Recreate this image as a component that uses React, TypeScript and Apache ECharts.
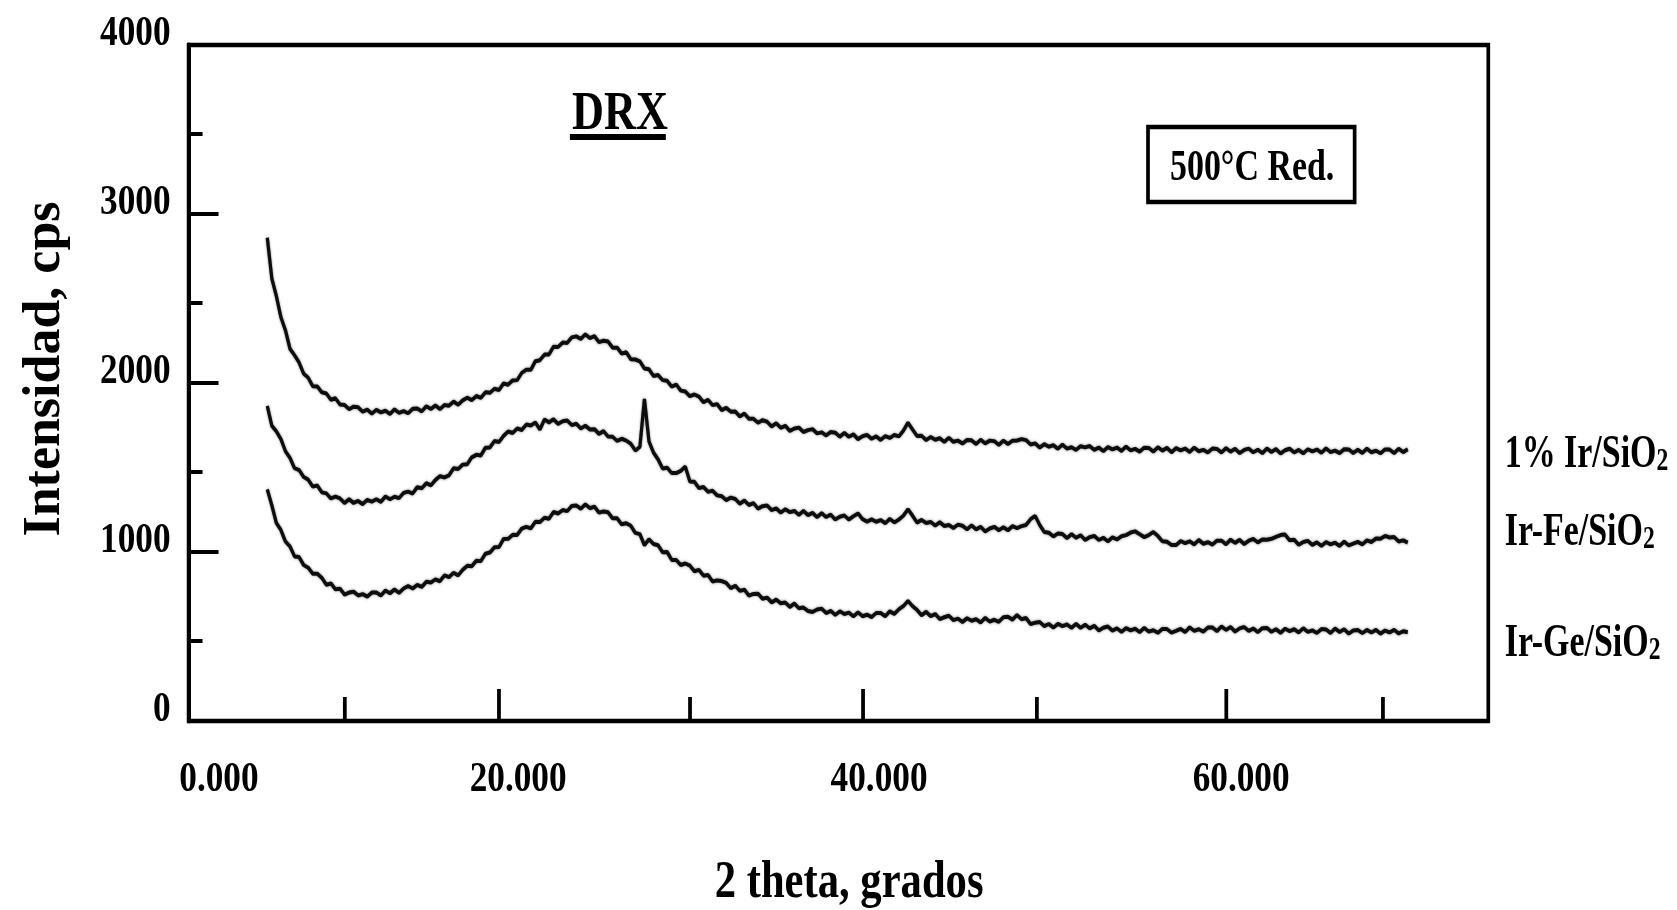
import React, { useEffect, useRef } from "react";
import * as echarts from "echarts";

// XRD scans (2θ from 7.25° in 0.25° steps), intensity in cps
const SCAN_START = 7.25;
const SCAN_STEP = 0.25;

const irSiO2 = [
  2859, 2618, 2514, 2389, 2311, 2202, 2164, 2121, 2056, 2031, 1981, 1980, 1945, 1938, 1901, 1910, 1873, 1870, 1845, 1860,
  1856, 1830, 1842, 1819, 1841, 1826, 1836, 1817, 1844, 1823, 1834, 1821, 1847, 1849, 1832, 1862, 1846, 1867, 1845, 1870,
  1866, 1890, 1871, 1897, 1913, 1899, 1923, 1912, 1945, 1942, 1966, 1959, 1998, 1990, 2015, 2017, 2060, 2079, 2078, 2129,
  2135, 2168, 2169, 2215, 2213, 2239, 2237, 2270, 2276, 2260, 2288, 2266, 2277, 2242, 2250, 2245, 2209, 2209, 2174, 2182,
  2140, 2139, 2128, 2086, 2081, 2041, 2047, 2017, 2013, 1979, 1991, 1955, 1950, 1922, 1932, 1919, 1886, 1900, 1869, 1875,
  1839, 1853, 1830, 1831, 1802, 1819, 1788, 1788, 1765, 1780, 1771, 1743, 1762, 1735, 1747, 1716, 1731, 1736, 1710, 1721,
  1727, 1702, 1708, 1690, 1710, 1706, 1682, 1705, 1682, 1696, 1668, 1685, 1693, 1670, 1684, 1663, 1686, 1675, 1692, 1684,
  1718, 1765, 1725, 1686, 1688, 1662, 1681, 1664, 1673, 1652, 1676, 1652, 1659, 1642, 1663, 1661, 1639, 1664, 1643, 1659,
  1656, 1634, 1659, 1639, 1658, 1660, 1668, 1662, 1636, 1643, 1618, 1638, 1623, 1632, 1611, 1635, 1612, 1620, 1604, 1626,
  1619, 1627, 1604, 1618, 1597, 1621, 1607, 1618, 1598, 1624, 1601, 1610, 1594, 1617, 1616, 1594, 1620, 1600, 1616, 1590,
  1614, 1601, 1612, 1592, 1618, 1596, 1604, 1589, 1612, 1610, 1589, 1615, 1594, 1611, 1585, 1604, 1612, 1590, 1605, 1585,
  1612, 1592, 1609, 1583, 1602, 1611, 1589, 1604, 1584, 1608, 1595, 1606, 1587, 1613, 1591, 1600, 1585, 1608, 1607, 1586,
  1605, 1586, 1612, 1590, 1599, 1584, 1607, 1606, 1585, 1611, 1591, 1608,
];

const irFeSiO2 = [
  1864, 1747, 1714, 1668, 1596, 1556, 1496, 1485, 1444, 1428, 1387, 1393, 1353, 1347, 1317, 1328, 1317, 1290, 1312, 1290,
  1302, 1283, 1309, 1298, 1312, 1297, 1328, 1312, 1327, 1319, 1350, 1357, 1346, 1384, 1377, 1407, 1394, 1426, 1449, 1441,
  1454, 1496, 1491, 1517, 1519, 1560, 1575, 1571, 1617, 1619, 1657, 1651, 1687, 1713, 1704, 1731, 1722, 1754, 1748, 1766,
  1725, 1784, 1767, 1785, 1758, 1774, 1778, 1751, 1759, 1731, 1747, 1725, 1727, 1699, 1715, 1683, 1682, 1657, 1670, 1659,
  1640, 1600, 1622, 1905, 1655, 1588, 1548, 1494, 1499, 1467, 1467, 1480, 1505, 1417, 1415, 1378, 1385, 1356, 1363, 1335,
  1330, 1307, 1322, 1314, 1286, 1305, 1278, 1289, 1257, 1271, 1275, 1248, 1258, 1233, 1253, 1236, 1243, 1220, 1243, 1218,
  1231, 1207, 1230, 1207, 1221, 1192, 1209, 1216, 1192, 1211, 1228, 1194, 1180, 1193, 1179, 1189, 1170, 1196, 1175, 1192,
  1215, 1253, 1215, 1174, 1190, 1172, 1178, 1156, 1176, 1154, 1160, 1142, 1162, 1155, 1134, 1157, 1134, 1149, 1121, 1139,
  1149, 1129, 1146, 1128, 1153, 1141, 1153, 1160, 1195, 1213, 1160, 1118, 1114, 1092, 1110, 1106, 1082, 1106, 1084, 1099,
  1071, 1088, 1095, 1071, 1084, 1063, 1086, 1074, 1093, 1100, 1115, 1122, 1105, 1088, 1100, 1118, 1095, 1063, 1060, 1042,
  1041, 1065, 1052, 1063, 1045, 1071, 1049, 1058, 1044, 1067, 1067, 1046, 1073, 1054, 1072, 1047, 1067, 1077, 1057, 1074,
  1072, 1078, 1090, 1100, 1103, 1069, 1073, 1043, 1059, 1066, 1042, 1057, 1036, 1059, 1045, 1055, 1036, 1061, 1039, 1050,
  1060, 1045, 1069, 1059, 1080, 1078, 1095, 1086, 1089, 1062, 1069, 1055,
];

const irGeSiO2 = [
  1371, 1276, 1171, 1130, 1062, 1033, 974, 970, 923, 907, 872, 872, 847, 806, 814, 779, 783, 748, 760, 765,
  743, 751, 736, 760, 761, 743, 772, 756, 778, 758, 784, 799, 784, 806, 793, 824, 819, 838, 827, 862,
  851, 877, 862, 894, 918, 916, 948, 946, 990, 997, 1028, 1029, 1077, 1078, 1102, 1101, 1138, 1149, 1140, 1179,
  1177, 1203, 1197, 1237, 1228, 1248, 1242, 1272, 1275, 1256, 1282, 1259, 1269, 1233, 1240, 1235, 1199, 1199, 1164, 1170,
  1155, 1113, 1106, 1040, 1075, 1047, 1040, 999, 1000, 953, 952, 923, 932, 919, 886, 894, 860, 864, 825, 832,
  828, 817, 786, 800, 770, 777, 742, 752, 753, 723, 730, 702, 718, 697, 701, 675, 695, 667, 671, 651,
  645, 660, 665, 639, 651, 628, 649, 633, 641, 619, 643, 620, 629, 615, 639, 639, 620, 649, 634, 661,
  680, 711, 680, 657, 626, 646, 621, 633, 603, 614, 623, 597, 606, 586, 608, 593, 602, 583, 610, 588,
  599, 587, 614, 617, 600, 627, 602, 609, 573, 582, 586, 561, 574, 552, 575, 561, 571, 551, 575, 551,
  570, 548, 563, 535, 552, 559, 535, 548, 527, 550, 536, 546, 526, 551, 529, 537, 522, 545, 544, 523,
  533, 545, 527, 554, 533, 543, 529, 553, 553, 532, 559, 539, 556, 529, 548, 556, 533, 547, 526, 549,
  551, 528, 543, 522, 546, 532, 543, 524, 549, 527, 536, 521, 544, 542, 521, 547, 527, 543, 517, 536,
  539, 520, 539, 524, 539, 517, 535, 524, 539, 518, 531, 525,
];

const sampleNames = ["1% Ir/SiO2", "Ir-Fe/SiO2", "Ir-Ge/SiO2"];

// Axis ticks and their printed labels
const xTickLabels = ["0.000", "20.000", "40.000", "60.000"];
const xMajorTicks = [20, 40, 60];
const xMinorTicks = [11.5, 30.5, 49.6, 68.6];
const yTickLabels = ["0", "1000", "2000", "3000", "4000"];
const yMinorTicks = [476, 1476, 2476, 3476];

// Layout: the chart is drawn on a wider canvas and squeezed horizontally,
// which gives the narrow Times look of the printed figure.
const SQUEEZE = 0.82;
const PAGE_H = 910;
const CANVAS_W = 2045;
const FONT = "'Liberation Serif', 'Times New Roman', Times, serif";
const X_LABEL_ANCHORS = [4.59, 21.05, 40.91, 60.83];

function scanToPairs(values: number[]) {
  return values.map((v, i) => [+(SCAN_START + i * SCAN_STEP).toFixed(2), v]);
}

function sampleLabel(main: string, y: number) {
  return {
    type: "text",
    x: 1835,
    y,
    scaleX: 0.9,
    style: {
      text: `{m|${main}}{s|2}`,
      align: "left",
      verticalAlign: "middle",
      fill: "#000",
      rich: {
        m: { fontFamily: FONT, fontWeight: "bold", fontSize: 46, lineHeight: 52, verticalAlign: "bottom", fill: "#000" },
        s: { fontFamily: FONT, fontWeight: "bold", fontSize: 32, lineHeight: 30, verticalAlign: "bottom", fill: "#000" },
      },
    },
  };
}

export default function App() {
  const ref = useRef<HTMLDivElement>(null);

  useEffect(() => {
    if (!ref.current) return;
    const chart = echarts.init(ref.current, null, { renderer: "svg" });

    const tickLine = { color: "#000", width: 4 };
    const xTickLine = { color: "#000", width: 4.6 };
    const lineStyle = {
      color: "#0a0a0a",
      width: 4,
      shadowColor: "rgba(0,0,0,0.45)",
      shadowBlur: 3,
    };

    const option = {
      animation: false,
      backgroundColor: "#fff",
      grid: {
        left: 230,
        right: 230,
        top: 45,
        bottom: 188,
        show: true,
        borderColor: "#000",
        borderWidth: 4.5,
        backgroundColor: "transparent",
      },
      xAxis: [
        {
          type: "value",
          min: 2.92,
          max: 74.43,
          position: "bottom",
          axisLine: { show: true, onZero: false, lineStyle: { color: "#000", width: 4 } },
          axisTick: { show: true, inside: true, length: 32, customValues: xMajorTicks, lineStyle: xTickLine },
          axisLabel: {
            show: true,
            customValues: X_LABEL_ANCHORS,
            formatter: (v: number) => {
              const i = X_LABEL_ANCHORS.findIndex((a) => Math.abs(a - v) < 0.01);
              return i >= 0 ? xTickLabels[i] : "";
            },
            margin: 34,
            color: "#000",
            fontFamily: FONT,
            fontWeight: "bold",
            fontSize: 43,
            lineHeight: 43,
          },
          splitLine: { show: false },
          name: "2 theta, grados",
          nameLocation: "middle",
          nameGap: 132,
          nameTextStyle: {
            color: "#000",
            fontFamily: FONT,
            fontWeight: "bold",
            fontSize: 52,
            lineHeight: 52,
            padding: [0, 0, 0, 26],
          },
        },
        {
          type: "value",
          min: 2.92,
          max: 74.43,
          position: "bottom",
          axisLine: { show: false },
          axisTick: { show: true, inside: true, length: 24, customValues: xMinorTicks, lineStyle: xTickLine },
          axisLabel: { show: false },
          splitLine: { show: false },
        },
      ],
      yAxis: [
        {
          type: "value",
          min: 0,
          max: 4000,
          interval: 1000,
          position: "left",
          axisLine: { show: true, onZero: false, lineStyle: { color: "#000", width: 4.8 } },
          axisTick: { show: true, inside: true, length: 36.5, lineStyle: tickLine },
          axisLabel: {
            show: true,
            formatter: (v: number, i: number) => yTickLabels[i] ?? String(v),
            margin: 22,
            color: "#000",
            fontFamily: FONT,
            fontWeight: "bold",
            fontSize: 43,
            lineHeight: 29,
            verticalAlign: "bottom",
          },
          splitLine: { show: false },
        },
        {
          type: "value",
          min: 0,
          max: 4000,
          position: "left",
          axisLine: { show: false },
          axisTick: { show: true, inside: true, length: 17, customValues: yMinorTicks, lineStyle: tickLine },
          axisLabel: { show: false },
          splitLine: { show: false },
        },
      ],
      series: [irSiO2, irFeSiO2, irGeSiO2].map((vals, k) => ({
        name: sampleNames[k],
        type: "line",
        xAxisIndex: 0,
        yAxisIndex: 0,
        data: scanToPairs(vals),
        showSymbol: false,
        symbol: "none",
        silent: true,
        lineStyle,
        z: 3,
      })),
      graphic: [
        {
          type: "text",
          x: 50,
          y: 369,
          rotation: Math.PI / 2,
          scaleY: 1 / SQUEEZE,
          style: {
            text: "Intensidad, cps",
            fontFamily: FONT,
            fontWeight: "bold",
            fontSize: 52,
            fill: "#000",
            align: "center",
            verticalAlign: "middle",
          },
        },
        {
          type: "text",
          x: 756,
          y: 111,
          style: {
            text: "DRX",
            fontFamily: FONT,
            fontWeight: "bold",
            fontSize: 54,
            fill: "#000",
            align: "center",
            verticalAlign: "middle",
          },
        },
        {
          type: "rect",
          shape: { x: 695, y: 134, width: 117, height: 6 },
          style: { fill: "#000" },
        },
        {
          type: "rect",
          shape: { x: 1400, y: 127, width: 252, height: 75 },
          style: { fill: "none", stroke: "#000", lineWidth: 4.5 },
        },
        {
          type: "text",
          x: 1527,
          y: 165,
          scaleX: 0.92,
          style: {
            text: "500°C Red.",
            fontFamily: FONT,
            fontWeight: "bold",
            fontSize: 45,
            fill: "#000",
            align: "center",
            verticalAlign: "middle",
          },
        },
        sampleLabel("1% Ir/SiO", 449),
        sampleLabel("Ir-Fe/SiO", 527),
        sampleLabel("Ir-Ge/SiO", 638),
      ],
    };

    chart.setOption(option as any);
    return () => chart.dispose();
  }, []);

  return (
    <div
      ref={ref}
      style={{
        position: "fixed",
        left: 0,
        top: 0,
        width: CANVAS_W,
        height: PAGE_H,
        transform: `scaleX(${SQUEEZE})`,
        transformOrigin: "0 0",
        background: "#fff",
      }}
    />
  );
}
